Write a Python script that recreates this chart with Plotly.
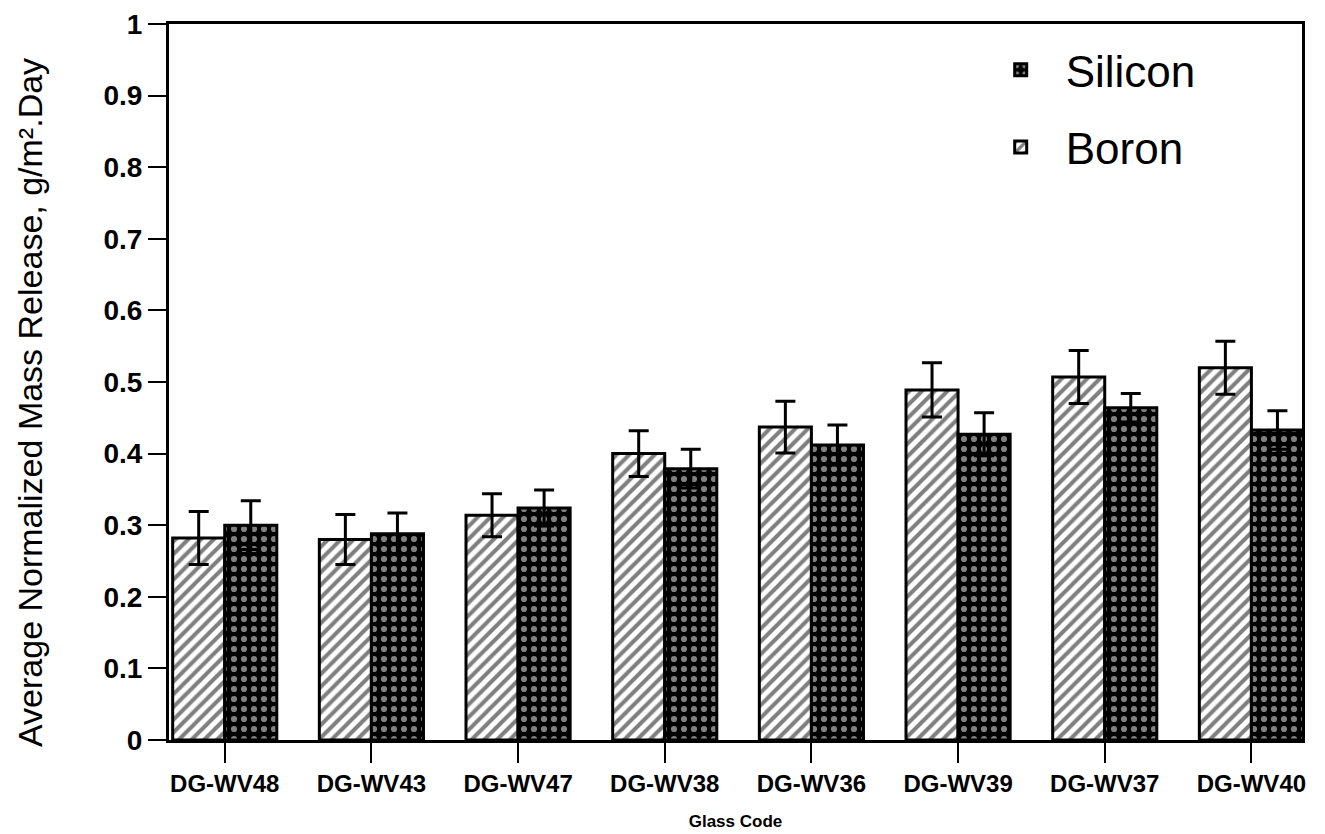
import plotly.graph_objects as go

categories = ["DG-WV48", "DG-WV43", "DG-WV47", "DG-WV38", "DG-WV36", "DG-WV39", "DG-WV37", "DG-WV40"]
boron = [0.282, 0.280, 0.314, 0.400, 0.437, 0.489, 0.507, 0.520]
boron_err = [0.037, 0.035, 0.030, 0.032, 0.036, 0.038, 0.037, 0.037]
silicon = [0.300, 0.288, 0.324, 0.379, 0.412, 0.427, 0.464, 0.433]
silicon_err = [0.034, 0.029, 0.025, 0.027, 0.028, 0.030, 0.020, 0.027]
y_ticks = [0, 0.1, 0.2, 0.3, 0.4, 0.5, 0.6, 0.7, 0.8, 0.9, 1]
y_tick_text = ["0", "0.1", "0.2", "0.3", "0.4", "0.5", "0.6", "0.7", "0.8", "0.9", "1"]
y_title = "Average Normalized Mass Release, g/m².Day"

FONT = "Liberation Sans, Arial, Helvetica, sans-serif"

fig = go.Figure()
fig.add_trace(go.Bar(
    name="Boron", x=categories, y=boron, legendgroup="b", legendrank=2,
    marker=dict(color="white", line=dict(color="black", width=3),
                pattern=dict(shape="/", fgcolor="black", bgcolor="white", size=9, solidity=0.45)),
    error_y=dict(type="data", array=boron_err, visible=True, color="black", thickness=3, width=10),
))
fig.add_trace(go.Bar(
    name="Silicon", x=categories, y=silicon, legendgroup="s", legendrank=1,
    marker=dict(color="black", line=dict(color="black", width=3),
                pattern=dict(shape=".", fgcolor="white", bgcolor="black", size=10, solidity=0.3)),
    error_y=dict(type="data", array=silicon_err, visible=True, color="black", thickness=3, width=10),
))

# the page body adds an 8px offset, so the figure is 8px smaller than the window
fig.update_layout(
    width=1317, height=826,
    margin=dict(l=161, r=23, t=16, b=94, autoexpand=False),
    paper_bgcolor="white", plot_bgcolor="white",
    barmode="group", bargap=0.29, bargroupgap=0,
    font=dict(family=FONT, color="black"),
    showlegend=True,
    legend=dict(x=0.712, y=0.985, xanchor="left", yanchor="top",
                traceorder="grouped", bgcolor="rgba(0,0,0,0)",
                font=dict(size=44, family=FONT, color="black"),
                itemwidth=80, tracegroupgap=17),
    xaxis=dict(range=[-0.38, 7.345], showline=True, linecolor="black", linewidth=3,
               mirror=True, ticks="outside", ticklen=20, tickwidth=2, tickcolor="black",
               ticklabelstandoff=0, automargin=False,
               tickfont=dict(size=24, family=FONT, weight="bold"),
               title=dict(text="Glass Code", font=dict(size=17, family=FONT, weight="bold"), standoff=20),
               showgrid=False, zeroline=False),
    yaxis=dict(range=[0, 1], tickvals=y_ticks, ticktext=y_tick_text,
               showline=True, linecolor="black", linewidth=3, mirror=True,
               ticks="outside", ticklen=18, tickwidth=2, tickcolor="black",
               automargin=False, ticklabeloverflow="allow",
               tickfont=dict(size=28, family=FONT, weight="bold"),
               showgrid=False, zeroline=False),
    annotations=[dict(text=y_title, xref="paper", yref="paper", x=0, y=0.4707,
                      xanchor="center", yanchor="middle", xshift=-139, textangle=-90,
                      showarrow=False, font=dict(size=34, family=FONT, color="black"))],
)

fig.write_html("out.html")
